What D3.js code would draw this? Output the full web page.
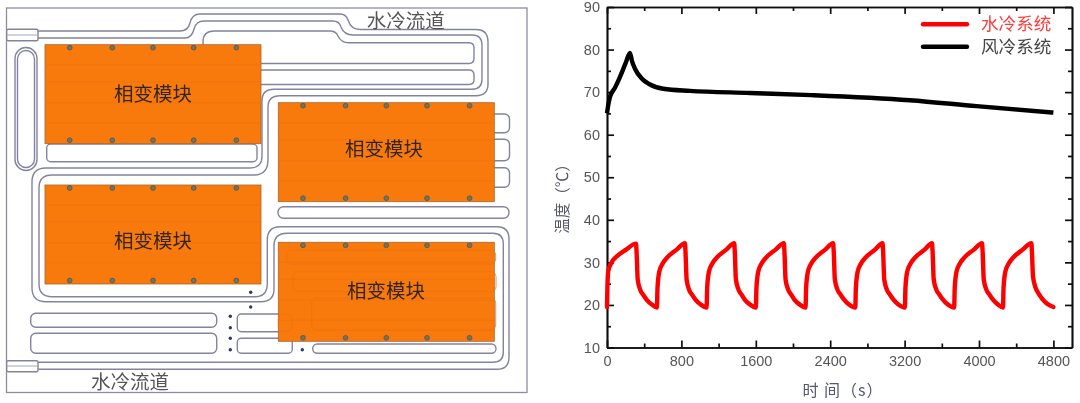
<!DOCTYPE html>
<html>
<head>
<meta charset="utf-8">
<script src="https://cdn.jsdelivr.net/npm/d3@7"></script>
<style>
    html, body { margin: 0; padding: 0; background: #fff; overflow: hidden; }
    svg { display: block; }
    text { font-family: "Liberation Sans", Arial, sans-serif; }
    .cjk { font-family: "Noto Sans CJK SC", sans-serif; }
    .legendtext { font-family: "Liberation Sans", "Noto Sans CJK SC", sans-serif; }
    .axis path, .axis line { stroke: #111; stroke-width: 1.7; }
    .axis text { font-size: 14.5px; fill: #555; font-family: "Liberation Sans", Arial, sans-serif; }
</style>
</head>
<body>
<div id="chart"></div>
<script>
// line chart values
const waterTime = [
    0, 4, 14, 50, 100, 205, 312, 318, 330, 358, 392, 427, 482, 537,
    543, 562, 597, 641, 749, 838, 844, 856, 884, 918, 953, 1008, 1071,
    1077, 1096, 1131, 1175, 1283, 1368, 1374, 1386, 1414, 1448, 1483, 1538, 1601,
    1607, 1626, 1661, 1705, 1813, 1902, 1908, 1920, 1948, 1982, 2017, 2072, 2135,
    2141, 2160, 2195, 2239, 2347, 2432, 2438, 2450, 2478, 2512, 2547, 2602, 2670,
    2676, 2695, 2730, 2774, 2882, 2963, 2969, 2981, 3009, 3043, 3078, 3133, 3203,
    3209, 3228, 3263, 3307, 3415, 3495, 3501, 3513, 3541, 3575, 3610, 3665, 3733,
    3739, 3758, 3793, 3837, 3945, 4033, 4039, 4051, 4079, 4113, 4148, 4203, 4258,
    4264, 4283, 4318, 4362, 4470, 4563, 4569, 4581, 4609, 4643, 4678, 4733, 4800
];
const waterTemp = [
    19.5, 24, 28, 30, 31.3, 33, 34.4, 32.5, 26, 23.5, 22.3, 21.2, 20.1, 19.4,
    24, 27.8, 29.7, 31, 33, 34.5, 32.5, 26, 23.5, 22.3, 21.2, 20.1, 19.4,
    24, 27.8, 29.7, 31, 33, 34.5, 32.5, 26, 23.6, 22.4, 21.2, 20.1, 19.4,
    24, 27.8, 29.7, 31, 33, 34.5, 32.5, 26, 23.6, 22.4, 21.2, 20.1, 19.4,
    24, 27.8, 29.7, 31, 33, 34.5, 32.5, 26, 23.6, 22.4, 21.3, 20.1, 19.4,
    24, 27.8, 29.7, 31, 33, 34.5, 32.5, 26, 23.6, 22.4, 21.3, 20.1, 19.4,
    24, 27.8, 29.7, 31, 33, 34.5, 32.5, 26, 23.6, 22.4, 21.3, 20.1, 19.4,
    24, 27.8, 29.7, 31, 33, 34.5, 32.5, 26, 23.6, 22.4, 21.3, 20.1, 19.4,
    24, 27.8, 29.7, 31, 33, 34.5, 32.5, 26.6, 24, 22.6, 21.5, 20.3, 19.5
];
const airTime = [0, 10, 32, 85, 140, 200, 247, 270, 301, 373, 462, 605, 892, 1537, 2200, 3256, 3973, 4800];
const airTemp = [65, 66.5, 68.9, 71, 73.6, 76.8, 79.2, 77.2, 75.5, 73.2, 71.8, 70.8, 70.3, 69.8, 69.3, 68.1, 66.7, 65.2];
const xMajor = [0, 800, 1600, 2400, 3200, 4000, 4800];
const xMinor = [400, 1200, 2000, 2800, 3600, 4400];
const yMajor = [10, 20, 30, 40, 50, 60, 70, 80, 90];
const yMinor = [15, 25, 35, 45, 55, 65, 75, 85];
const legendNames = ['水冷系统', '风冷系统'];

const svg = d3.select('#chart').append('svg').attr('width', 1080).attr('height', 403);

const defs = svg.append('defs');
defs.append('filter')
    .attr('id', 'soft')
    .attr('filterUnits', 'userSpaceOnUse')
    .attr('x', 0).attr('y', 0).attr('width', 1080).attr('height', 403)
    .append('feGaussianBlur')
    .attr('stdDeviation', 0.55);

const root = svg.append('g').attr('filter', 'url(#soft)');

// ---------- left picture: cooling plate schematic ----------
const plate = root.append('g');
const pipeColor = '#83839f';

plate.append('rect')
    .attr('x', 6.5).attr('y', 8).attr('width', 520.5).attr('height', 384.5)
    .attr('fill', '#fff').attr('stroke', '#8d8da6').attr('stroke-width', 1.3);

const pipePaths = [
    // upper wall of the channel
    'M38 31 H180 Q188 31 190 23 Q192 14 200 14 H340 Q346 14 348 20 Q351 29.5 360 29.5 H476 Q488 29.5 488 42 V84 Q488 95.7 476 95.7 H280 Q268 95.7 268 107 V160 Q268 175 254 175 H52 Q39 175 39 188 V284 Q39 296.7 52 296.7 H255 Q267.3 296.7 267.3 284 V240 Q267.3 226.7 280 226.7 H497 Q509 226.7 509 239 V357 Q509 369.3 497 369.3 H38',
    // lower wall of the channel
    'M38 38 H185 Q192 38 194 29 Q196 21 204 21 H333 Q339 21 341 27 Q344 35 353 35 H472 Q482 35 482 45 V79 Q482 89.3 472 89.3 H274 Q262 89.3 262 101 V156 Q262 168 250 168 H46 Q32 168 32 182 V288 Q32 301.7 46 301.7 H261 Q274 301.7 274 289 V246 Q274 233.3 287 233.3 H493 Q503.3 233.3 503.3 244 V352 Q503.3 362.3 493 362.3 H38',
    // upper pockets, run in under the first module
    'M203 50 V42 Q203 31 214 31 H330 Q336 31 338 36 Q341 42.7 349 42.7 H469 Q474 42.7 474 48 V58 Q474 63.5 469 63.5 H255',
    'M255 70 H469 Q474 70 474 75 V80 Q474 84.5 469 84.5 H255'
];
plate.selectAll('.pipe')
    .data(pipePaths)
    .join('path')
    .attr('class', 'pipe')
    .attr('d', d => d)
    .attr('fill', 'none')
    .attr('stroke', pipeColor)
    .attr('stroke-width', 1.4);

const pocketBoxes = [
    { x: 46.7, y: 144, w: 210.3, h: 17.7, r: 4 },
    { x: 278, y: 206.7, w: 231, h: 11.6, r: 5.5 },
    { x: 484, y: 114, w: 25.5, h: 18.7, r: 5 },
    { x: 484, y: 139.3, w: 25.5, h: 21.4, r: 5 },
    { x: 484, y: 167.7, w: 25.5, h: 19.6, r: 5 },
    { x: 30.7, y: 313.3, w: 186, h: 14, r: 5 },
    { x: 30.7, y: 333.3, w: 186, h: 20, r: 5 },
    { x: 237.3, y: 314, w: 54.7, h: 17.7, r: 4 },
    { x: 237.3, y: 338.3, w: 55, h: 15, r: 4 },
    { x: 312.7, y: 344, w: 183.3, h: 9.3, r: 4.5 },
    { x: 15, y: 47.5, w: 22, h: 123, r: 11 },
    { x: 17.5, y: 50.5, w: 17, h: 117, r: 8.5 },
    { x: 6.7, y: 29.3, w: 31.3, h: 11.4, r: 1.5 },
    { x: 6.7, y: 360.7, w: 31.3, h: 11, r: 1.5 }
];
plate.selectAll('.pocket')
    .data(pocketBoxes)
    .join('rect')
    .attr('class', 'pocket')
    .attr('x', d => d.x).attr('y', d => d.y)
    .attr('width', d => d.w).attr('height', d => d.h)
    .attr('rx', d => d.r)
    .attr('fill', '#fff')
    .attr('stroke', pipeColor)
    .attr('stroke-width', 1.4);

// middle line of the two inlet stubs
plate.selectAll('.stub')
    .data([35, 366])
    .join('line')
    .attr('class', 'stub')
    .attr('x1', 7).attr('x2', 38)
    .attr('y1', d => d).attr('y2', d => d)
    .attr('stroke', '#a5a5bb').attr('stroke-width', 1);

const modules = [
    { x: 45, y: 44.7, tx: 153, ty: 92 },
    { x: 278.3, y: 102.7, tx: 384, ty: 147 },
    { x: 45, y: 185, tx: 153, ty: 239 },
    { x: 278.3, y: 242.3, tx: 386, ty: 289 }
];
const moduleW = 216, moduleH = 99;
const boltX = [24.7, 67.3, 108, 148.7, 191.3];
const boltY = [3, 95.5];

const mod = plate.selectAll('.module')
    .data(modules)
    .join('g')
    .attr('class', 'module')
    .attr('transform', d => `translate(${d.x},${d.y})`);

mod.append('rect')
    .attr('width', moduleW).attr('height', moduleH)
    .attr('fill', '#f87a10')
    .attr('stroke', '#a8662a')
    .attr('stroke-width', 0.8);

// faint plate seams
mod.selectAll('.seam')
    .data([20, 37, 58, 78])
    .join('line')
    .attr('class', 'seam')
    .attr('x1', 0).attr('x2', moduleW)
    .attr('y1', d => d).attr('y2', d => d)
    .attr('stroke', '#ec7210')
    .attr('stroke-width', 0.7);

mod.each(function () {
    const g = d3.select(this);
    boltY.forEach(by => {
        g.selectAll(null)
            .data(boltX)
            .join('circle')
            .attr('cx', d => d).attr('cy', by)
            .attr('r', 2.4)
            .attr('fill', '#6f7460')
            .attr('stroke', '#5a5648')
            .attr('stroke-width', 0.8);
    });
});

// pocket outlines showing through the last module
plate.selectAll('.ghost')
    .data([
        { x: 286.7, y: 250, w: 209, h: 14 },
        { x: 293, y: 271.7, w: 203, h: 20 },
        { x: 311.7, y: 298, w: 184, h: 32 },
        { x: 278.3, y: 314, w: 13.7, h: 17.7 }
    ])
    .join('rect')
    .attr('class', 'ghost')
    .attr('x', d => d.x).attr('y', d => d.y)
    .attr('width', d => d.w).attr('height', d => d.h)
    .attr('rx', 5)
    .attr('fill', 'none')
    .attr('stroke', '#ec7210')
    .attr('stroke-width', 0.8);

plate.selectAll('.modlabel')
    .data(modules)
    .join('text')
    .attr('class', 'modlabel cjk')
    .attr('x', d => d.tx).attr('y', d => d.ty)
    .attr('text-anchor', 'middle')
    .attr('dominant-baseline', 'central')
    .attr('font-size', 19.5)
    .attr('fill', '#33261c')
    .text('相变模块');

plate.selectAll('.dot')
    .data([[250.7, 292.3], [250.7, 307], [230.3, 316.3], [230.3, 327.7], [230.3, 338.3], [230.3, 349.7], [302.3, 349.7]])
    .join('circle')
    .attr('class', 'dot')
    .attr('cx', d => d[0]).attr('cy', d => d[1])
    .attr('r', 1.7)
    .attr('fill', '#34346e');

plate.selectAll('.channel')
    .data([[405.7, 19], [130, 380.7]])
    .join('text')
    .attr('class', 'channel cjk')
    .attr('x', d => d[0]).attr('y', d => d[1])
    .attr('text-anchor', 'middle')
    .attr('dominant-baseline', 'central')
    .attr('font-size', 19.5)
    .attr('fill', '#555')
    .text('水冷流道');

// ---------- right picture: temperature curves ----------
const plotLeft = 607, plotRight = 1072, plotTop = 7, plotBottom = 347.5;

const x = d3.scaleLinear().domain([0, 5000]).range([plotLeft, plotRight]);
const y = d3.scaleLinear().domain([10, 90]).range([plotBottom, plotTop]);

const chart = root.append('g');

const addAxis = (axis, dx, dy) => chart.append('g')
    .attr('class', 'axis')
    .attr('transform', `translate(${dx},${dy})`)
    .call(axis);

// major ticks with labels on the bottom and left, inward ticks on every side
addAxis(d3.axisBottom(x).tickValues(xMajor).tickSize(-7).tickSizeOuter(0).tickPadding(8).tickFormat(d3.format('d')), 0, plotBottom);
addAxis(d3.axisBottom(x).tickValues(xMinor).tickSize(-4).tickSizeOuter(0).tickFormat(''), 0, plotBottom);
addAxis(d3.axisTop(x).tickValues(xMajor).tickSize(-7).tickSizeOuter(0).tickFormat(''), 0, plotTop);
addAxis(d3.axisTop(x).tickValues(xMinor).tickSize(-4).tickSizeOuter(0).tickFormat(''), 0, plotTop);
addAxis(d3.axisLeft(y).tickValues(yMajor).tickSize(-7).tickSizeOuter(0).tickPadding(7).tickFormat(d3.format('d')), plotLeft, 0);
addAxis(d3.axisLeft(y).tickValues(yMinor).tickSize(-4).tickSizeOuter(0).tickFormat(''), plotLeft, 0);
addAxis(d3.axisRight(y).tickValues(yMajor).tickSize(-7).tickSizeOuter(0).tickFormat(''), plotRight, 0);
addAxis(d3.axisRight(y).tickValues(yMinor).tickSize(-4).tickSizeOuter(0).tickFormat(''), plotRight, 0);

const line = d3.line()
    .x(d => x(d[0]))
    .y(d => y(d[1]))
    .curve(d3.curveMonotoneX);

chart.append('path')
    .datum(d3.zip(airTime, airTemp))
    .attr('fill', 'none')
    .attr('stroke', '#000')
    .attr('stroke-width', 4.4)
    .attr('stroke-linejoin', 'round')
    .attr('d', line);

chart.append('path')
    .datum(d3.zip(waterTime, waterTemp))
    .attr('fill', 'none')
    .attr('stroke', '#ff0000')
    .attr('stroke-width', 4.4)
    .attr('stroke-linejoin', 'round')
    .attr('stroke-linecap', 'round')
    .attr('d', line);

// legend
const legendColors = ['#ff0000', '#000'];
const legendTextColors = ['#ff3b3b', '#444'];
const legend = chart.selectAll('.legend')
    .data(legendNames)
    .join('g')
    .attr('class', 'legend')
    .attr('transform', (d, i) => `translate(923,${24.3 + i * 22.4})`);

legend.append('line')
    .attr('x1', 0).attr('x2', 44)
    .attr('stroke', (d, i) => legendColors[i])
    .attr('stroke-width', 4.4)
    .attr('stroke-linecap', 'round');

legend.append('text')
    .attr('class', 'legendtext')
    .attr('x', 58)
    .attr('y', 6)
    .attr('font-size', 17.6)
    .attr('fill', (d, i) => legendTextColors[i])
    .text(d => d);

// axis titles
chart.append('text')
    .attr('class', 'cjk')
    .attr('x', 843).attr('y', 389)
    .attr('text-anchor', 'middle')
    .attr('dominant-baseline', 'central')
    .attr('font-size', 16)
    .attr('letter-spacing', 1)
    .attr('fill', '#55586a')
    .text('时  间（s）');

chart.append('text')
    .attr('class', 'cjk')
    .attr('transform', 'translate(561,195) rotate(-90)')
    .attr('text-anchor', 'middle')
    .attr('dominant-baseline', 'central')
    .attr('font-size', 15.5)
    .attr('fill', '#55586a')
    .text('温度（℃）');
</script>
</body>
</html>
